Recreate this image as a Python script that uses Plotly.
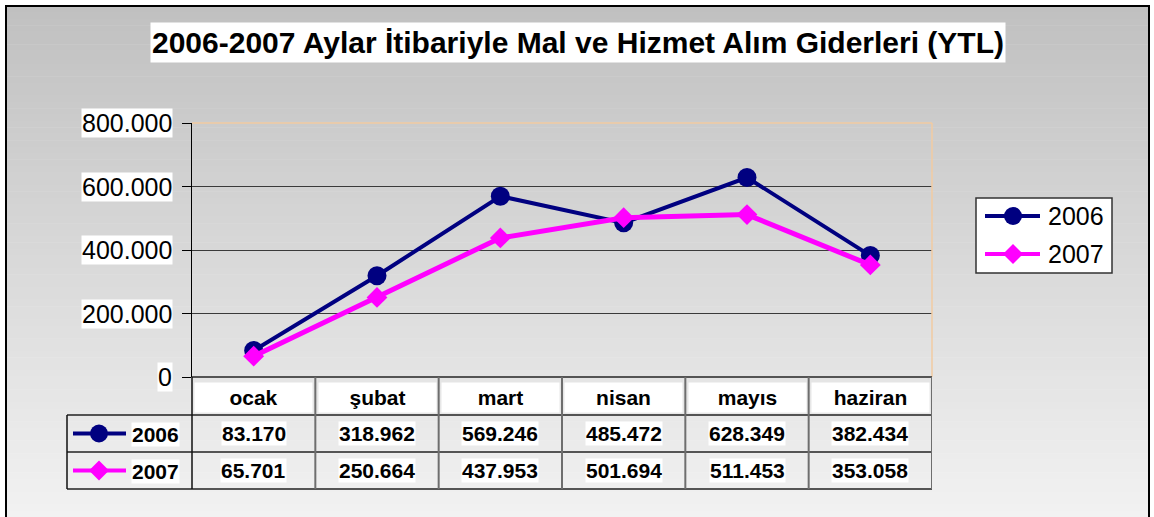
import plotly.graph_objects as go

# ---- data ----
months = ["ocak", "şubat", "mart", "nisan", "mayıs", "haziran"]
series_names = ["2006", "2007"]
values_2006 = [83170, 318962, 569246, 485472, 628349, 382434]
values_2007 = [65701, 250664, 437953, 501694, 511453, 353058]
y_ticks = [0, 200000, 400000, 600000, 800000]
title_text = "2006-2007 Aylar İtibariyle Mal ve Hizmet Alım Giderleri (YTL)"

W, H = 1154, 517
FONT = "Liberation Sans, Arial, sans-serif"
NAVY = "#000080"
MAGENTA = "#FF00FF"


def px(x):
    return x / W


def py(y):
    return 1 - y / H


def fmt(v):
    return f"{v:,.0f}".replace(",", ".")


# plot-area geometry (pixels)
PL, PR, PT, PB = 192, 932, 123, 377
ROWS = [377, 415, 452, 489]

fig = go.Figure()
series = [("2006", values_2006, NAVY, "circle", 19, 4),
          ("2007", values_2007, MAGENTA, "diamond", 16, 5)]
for name, vals, col, sym, msz, lw in series:
    fig.add_trace(go.Scatter(
        x=months, y=vals, name=name, mode="lines+markers",
        line=dict(color=col, width=lw),
        marker=dict(symbol=sym, size=msz, color=col),
        showlegend=False, cliponaxis=False))

shapes = []
# background gradient bands
n = 80
y0p, y1p = 6, H
c0, c1 = 0xC0, 0xF2
for i in range(n):
    ya = y0p + (y1p - y0p) * i / n
    yb = y0p + (y1p - y0p) * (i + 1) / n + 0.5
    c = int(round(c0 + (c1 - c0) * (i + 0.5) / n))
    shapes.append(dict(type="rect", xref="paper", yref="paper", layer="below",
                       x0=px(6), x1=px(1149), y0=py(yb), y1=py(ya),
                       line=dict(width=0), fillcolor=f"rgb({c},{c},{c})"))
# outer frame
shapes.append(dict(type="rect", xref="paper", yref="paper",
                   x0=px(6), x1=px(1149), y0=py(H + 5), y1=py(6),
                   line=dict(color="black", width=2)))
# peach plot-area border (top/right)
PEACH = "#F2CBA2"
shapes.append(dict(type="line", xref="paper", yref="paper",
                   x0=px(PL), x1=px(PR), y0=py(PT), y1=py(PT),
                   line=dict(color=PEACH, width=1.5)))
shapes.append(dict(type="line", xref="paper", yref="paper",
                   x0=px(PR), x1=px(PR), y0=py(PT), y1=py(PB),
                   line=dict(color=PEACH, width=1.5)))

# data table lines
shapes.append(dict(type="line", xref="x", yref="paper",
                   x0=-0.5, x1=len(months) - 0.5, y0=py(ROWS[0]), y1=py(ROWS[0]),
                   line=dict(color="#555555", width=2)))
for r in ROWS[1:]:
    shapes.append(dict(type="line", xref="paper", yref="paper",
                       x0=px(67), x1=px(PR), y0=py(r), y1=py(r),
                       line=dict(color="#222222", width=1.5)))
shapes.append(dict(type="line", xref="paper", yref="paper",
                   x0=px(67), x1=px(67), y0=py(ROWS[1]), y1=py(ROWS[3]),
                   line=dict(color="#111111", width=1.5)))
shapes.append(dict(type="line", xref="paper", yref="paper",
                   x0=px(PL), x1=px(PL), y0=py(ROWS[0]), y1=py(ROWS[3]),
                   line=dict(color="#111111", width=1.5)))
for i in range(1, len(months) + 1):
    shapes.append(dict(type="line", xref="x", yref="paper",
                       x0=i - 0.5, x1=i - 0.5, y0=py(ROWS[0]), y1=py(ROWS[3]),
                       line=dict(color="#6E6E6E", width=2)))


def swatch(cx, cy, x_a, x_b, col, sym, r):
    out = [dict(type="line", xref="paper", yref="paper",
                x0=px(x_a), x1=px(x_b), y0=py(cy), y1=py(cy),
                line=dict(color=col, width=4))]
    if sym == "circle":
        out.append(dict(type="circle", xref="paper", yref="paper",
                        x0=px(cx - r), x1=px(cx + r), y0=py(cy + r), y1=py(cy - r),
                        fillcolor=col, line=dict(width=0)))
    else:
        path = (f"M {px(cx - r)} {py(cy)} L {px(cx)} {py(cy - r)} "
                f"L {px(cx + r)} {py(cy)} L {px(cx)} {py(cy + r)} Z")
        out.append(dict(type="path", xref="paper", yref="paper", path=path,
                        fillcolor=col, line=dict(width=0)))
    return out


# swatches in table
row_centers = [(ROWS[1] + ROWS[2]) / 2, (ROWS[2] + ROWS[3]) / 2]
for (name, vals, col, sym, msz, lw), cy in zip(series, row_centers):
    shapes += swatch(99, cy, 73, 126, col, sym, 9 if sym == "circle" else 10)

# legend box (right)
LX0, LX1, LY0, LY1 = 976, 1112, 198, 273
shapes.append(dict(type="rect", xref="paper", yref="paper",
                   x0=px(LX0), x1=px(LX1), y0=py(LY1), y1=py(LY0),
                   fillcolor="white", line=dict(color="#333333", width=1.5)))
leg_centers = [216, 254]
for (name, vals, col, sym, msz, lw), cy in zip(series, leg_centers):
    shapes += swatch(1013, cy, 985, 1040, col, sym, 9 if sym == "circle" else 10)

annotations = []
C = dict(xanchor="center", yanchor="middle", showarrow=False)
# title
annotations.append(dict(text="<b>" + title_text + "</b>", xref="paper", yref="paper",
                        x=px(578), y=py(42.5),
                        font=dict(family=FONT, size=30, color="black"),
                        bgcolor="white", width=852, height=37, borderpad=1, **C))
# y tick labels
for t in y_ticks:
    annotations.append(dict(text=fmt(t), xref="paper", yref="y",
                            x=px(173), y=t, xanchor="right", yanchor="middle",
                            showarrow=False,
                            font=dict(family=FONT, size=25, color="black"),
                            bgcolor="white", borderpad=0))
# table header cells
for m in months:
    annotations.append(dict(text="<b>" + m + "</b>", xref="x", yref="paper",
                            x=m, y=py((ROWS[0] + ROWS[1]) / 2 + 1),
                            font=dict(family=FONT, size=21, color="black"),
                            bgcolor="white", width=115, height=27, borderpad=1, **C))
# table values
for (name, vals, col, sym, msz, lw), cy in zip(series, row_centers):
    annotations.append(dict(text="<b>" + name + "</b>", xref="paper", yref="paper",
                            x=px(155), y=py(cy + 1),
                            font=dict(family=FONT, size=21, color="black"),
                            bgcolor="white", borderpad=0, **C))
    for m, v in zip(months, vals):
        annotations.append(dict(text="<b>" + fmt(v) + "</b>", xref="x", yref="paper",
                                x=m, y=py(cy),
                                font=dict(family=FONT, size=21, color="black"),
                                bgcolor="white", borderpad=0, **C))
# legend text
for (name, *_), cy in zip(series, leg_centers):
    annotations.append(dict(text=name, xref="paper", yref="paper",
                            x=px(1046), y=py(cy), xanchor="left", yanchor="middle",
                            showarrow=False,
                            font=dict(family=FONT, size=25, color="black")))

fig.update_layout(
    width=W, height=H,
    margin=dict(l=0, r=0, t=0, b=0),
    paper_bgcolor="white",
    plot_bgcolor="rgba(0,0,0,0)",
    font=dict(family=FONT, color="black"),
    showlegend=False,
    xaxis=dict(domain=[px(PL), px(PR)], type="category", categoryarray=months,
               range=[-0.5, len(months) - 0.5], showticklabels=False,
               showgrid=False, zeroline=False, fixedrange=True),
    yaxis=dict(domain=[py(PB), py(PT)], range=[0, 800000], tickvals=y_ticks,
               showticklabels=False, ticks="outside", ticklen=9, tickcolor="black",
               showgrid=True, gridcolor="#3A3A3A", gridwidth=1, zeroline=False,
               showline=True, linecolor="black", linewidth=1, fixedrange=True),
    shapes=shapes,
    annotations=annotations,
)

fig.write_html("out.html", config={"displayModeBar": False},
               post_script="document.body.style.margin='0';document.body.style.padding='0';")
